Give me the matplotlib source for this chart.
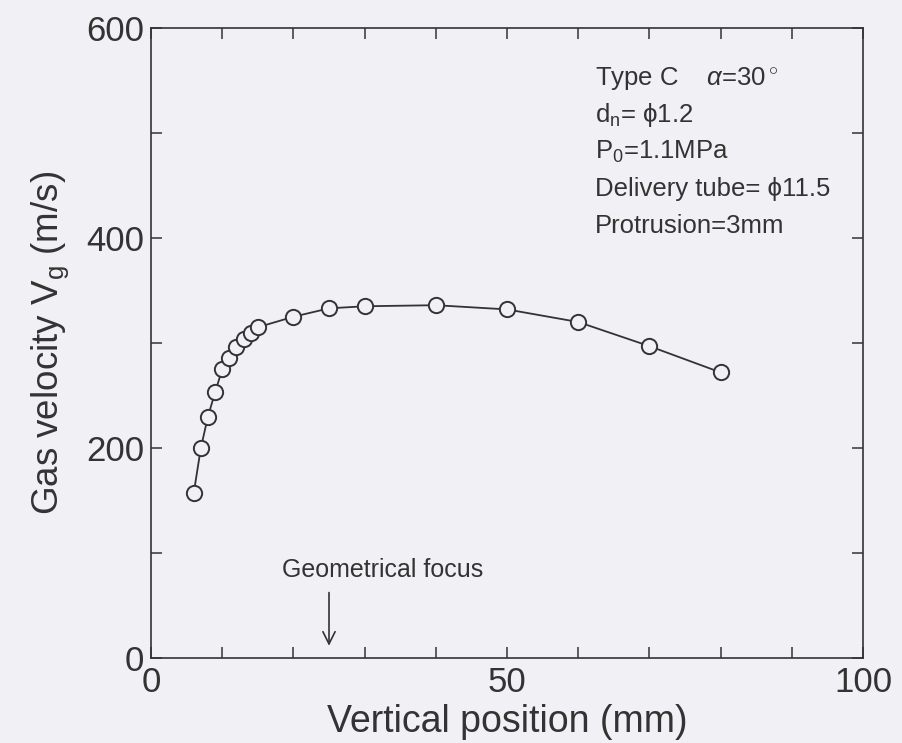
import numpy as np
import matplotlib.pyplot as plt

plt.rcParams['font.family'] = ['Liberation Sans', 'DejaVu Sans']
plt.rcParams['mathtext.fontset'] = 'custom'
plt.rcParams['mathtext.rm'] = 'Liberation Sans'
plt.rcParams['mathtext.it'] = 'Liberation Sans:italic'

# data
pos = [6, 7, 8, 9, 10, 11, 12, 13, 14, 15, 20, 25, 30, 40, 50, 60, 70, 80]
vel = [157, 200, 230, 253, 275, 286, 296, 304, 310, 315, 325, 333, 335, 336, 332, 320, 297, 272]

notes = ['Type C    $\\alpha$=30$^\\circ$',
         'd$_\\mathrm{n}$= ϕ1.2',
         'P$_\\mathrm{0}$=1.1MPa',
         'Delivery tube= ϕ11.5',
         'Protrusion=3mm']
focus = 25

bg = '#f1f0f4'
ink = '#333333'

fig = plt.figure(figsize=(9.02, 7.43), dpi=100, facecolor=bg)
ax = fig.add_axes([0.1674, 0.1144, 0.7894, 0.8479], facecolor=bg)

ax.plot(pos, vel, '-o', color=ink, lw=1.3, ms=11, mfc=bg, mec=ink, mew=1.4)

ax.set_xlim(0, 100)
ax.set_ylim(0, 600)
ax.set_xticks(np.arange(0, 101, 10))
ax.set_xticklabels(['0', '', '', '', '', '50', '', '', '', '', '100'])
ax.set_yticks(np.arange(0, 601, 100))
ax.set_yticklabels(['0', '', '200', '', '400', '', '600'])
ax.tick_params(direction='in', length=8, width=1.1, color=ink, labelcolor=ink,
               labelsize=25, top=True, right=True)
ax.tick_params(axis='x', pad=6)
ax.tick_params(axis='y', pad=5)
for s in ax.spines.values():
    s.set_color(ink)
    s.set_linewidth(1.2)

ax.set_xlabel('Vertical position (mm)', fontsize=27, color=ink, labelpad=3)
ax.set_ylabel('Gas velocity V$_\\mathrm{g}$ (m/s)', fontsize=26.5, color=ink, labelpad=11)

for i, t in enumerate(notes):
    ax.text(0.6236, 0.9095 - i * 0.0587, t, transform=ax.transAxes, fontsize=18.5,
            color=ink, ha='left', va='baseline')

ax.annotate('', xy=(focus, 9), xytext=(focus, 65),
            arrowprops=dict(arrowstyle='->', color=ink, lw=1.2, mutation_scale=22))
ax.text(32.6, 84, 'Geometrical focus', fontsize=18, color=ink, ha='center', va='center')

fig.savefig('out.png', dpi=100, facecolor=bg)
